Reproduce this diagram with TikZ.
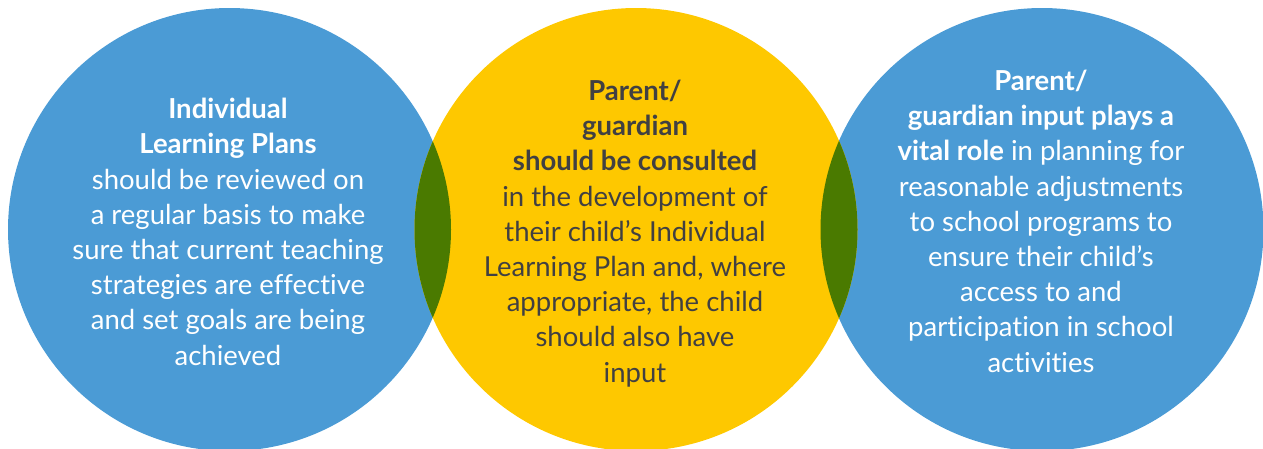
\documentclass[tikz,border=0pt]{standalone}
\usepackage{fontspec}
\setmainfont{Lato}[Ligatures=NoCommon]
\definecolor{cblue}{RGB}{75,155,213}
\definecolor{cyellow}{RGB}{254,200,0}
\definecolor{cgreen}{RGB}{74,122,0}
\definecolor{ctext}{RGB}{65,64,66}
\begin{document}
\begin{tikzpicture}[x=1pt,y=-1pt,
  disc/.style={circle,minimum size=443pt,inner sep=0pt,draw=none},
  label/.style={align=center,anchor=base,inner sep=0pt,
    font=\fontsize{27.5pt}{35.2pt}\selectfont}]
\useasboundingbox (0,0) rectangle (1263,448);
\node[disc,fill=cblue] (c1) at (229.5,229.5) {};
\node[disc,fill=cblue] (c3) at (1042,229.5) {};
\node[disc,fill=cyellow] (c2) at (636,229.5) {};
\begin{scope}
  \clip (c1.center) circle (221.5pt);
  \fill[cgreen] (c2.center) circle (221.5pt);
\end{scope}
\begin{scope}
  \clip (c3.center) circle (221.5pt);
  \fill[cgreen] (c2.center) circle (221.5pt);
\end{scope}
\node[label,text=white] (t1) at (228,365) {\textbf{Individual}\\\textbf{Learning Plans}\\should be reviewed on\\a regular basis to make\\sure that current teaching\\strategies are effective\\and set goals are being\\achieved};
\node[label,text=ctext] (t2) at (635,382) {\textbf{Parent/}\\\textbf{guardian}\\\textbf{should be consulted}\\in the development of\\their child’s Individual\\Learning Plan and, where\\appropriate, the child\\should also have\\input};
\node[label,text=white] (t3) at (1041,372) {\textbf{Parent/}\\\textbf{guardian input plays a}\\\textbf{vital role} in planning for\\reasonable adjustments\\to school programs to\\ensure their child’s\\access to and\\participation in school\\activities};
\end{tikzpicture}
\end{document}
